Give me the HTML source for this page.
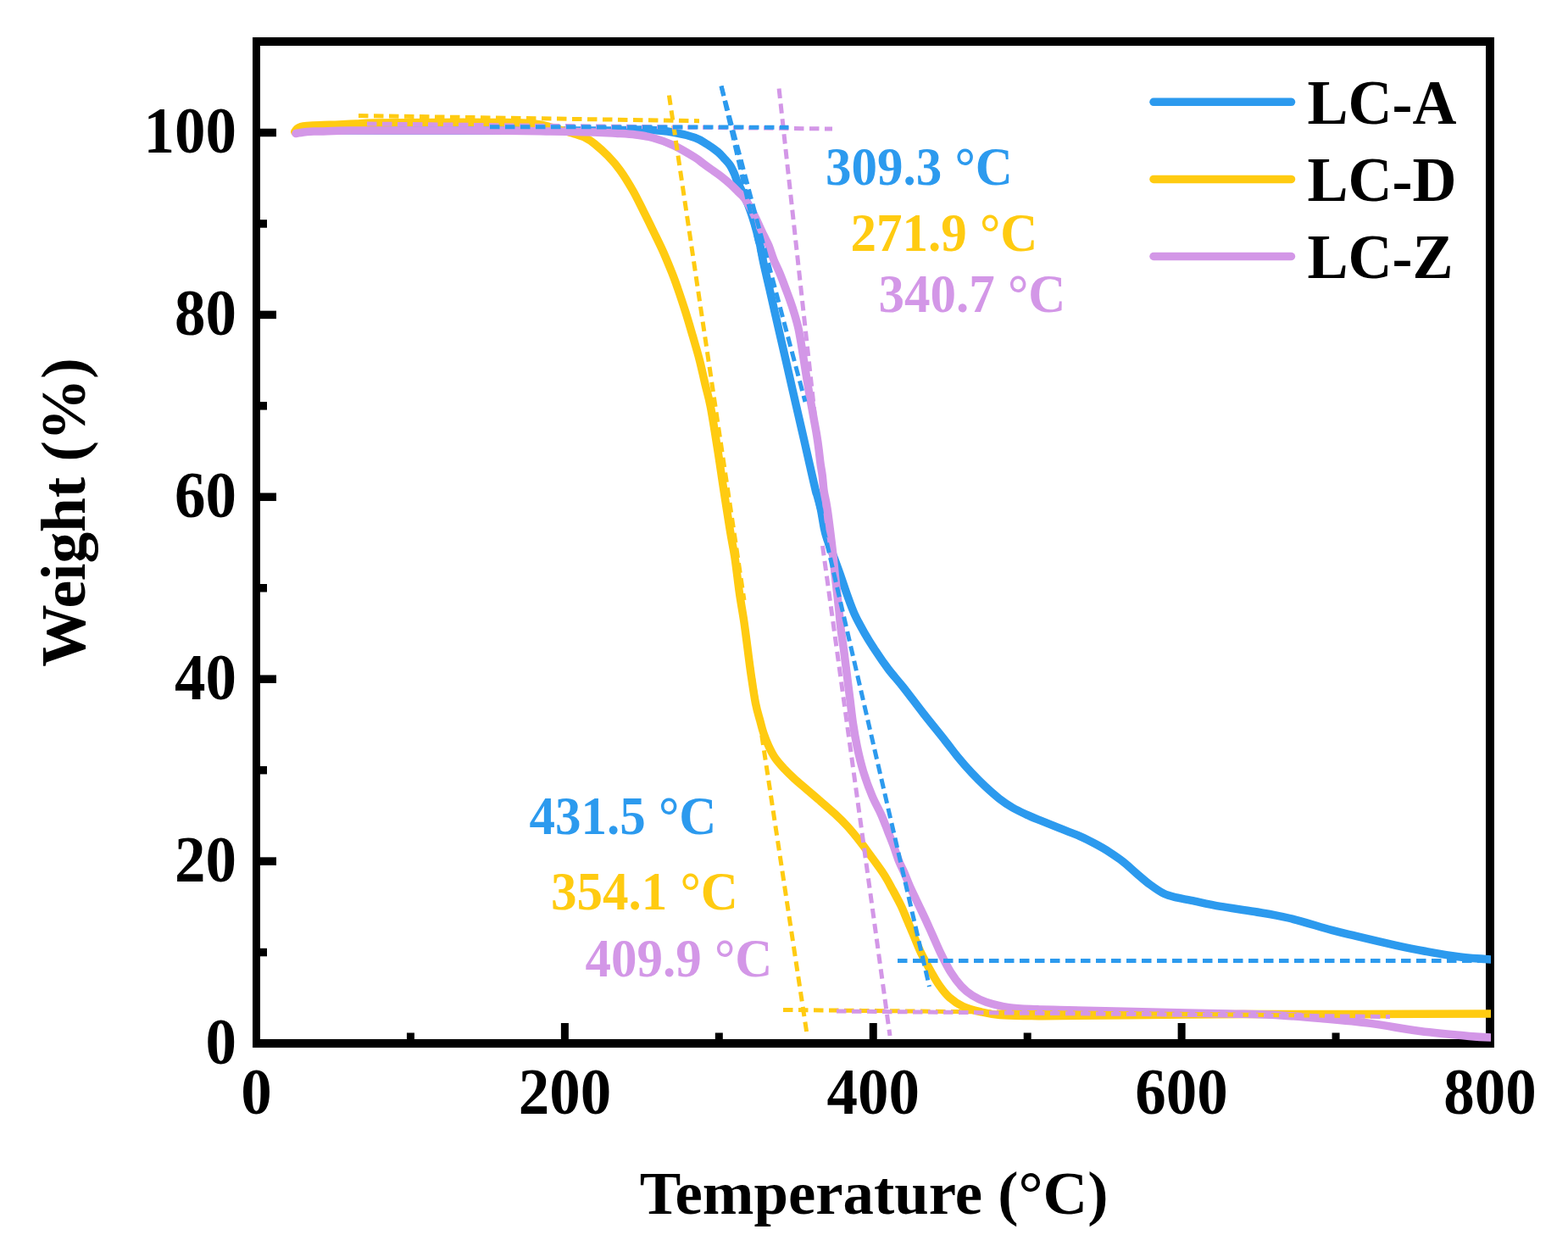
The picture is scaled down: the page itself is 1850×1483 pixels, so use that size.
<!DOCTYPE html>
<html><head><meta charset="utf-8"><title>TGA</title>
<style>html,body{margin:0;padding:0;background:#fff;}svg{display:block;}</style></head>
<body>
<svg width="1850" height="1483" viewBox="0 0 1850 1483">
<rect width="1850" height="1483" fill="#fff"/>
<defs><clipPath id="pc"><rect x="300" y="40" width="1459" height="1200"/></clipPath></defs>
<rect x="298" y="44" width="9" height="1192" fill="#000"/>
<rect x="1753" y="44" width="10" height="1192" fill="#000"/>
<rect x="298" y="44" width="1465" height="10" fill="#000"/>
<rect x="298" y="1226" width="1465" height="10" fill="#000"/>
<rect x="479.94" y="1218.50" width="9" height="7.5" fill="#000"/><rect x="661.88" y="1207.00" width="9" height="19" fill="#000"/><rect x="843.81" y="1218.50" width="9" height="7.5" fill="#000"/><rect x="1025.75" y="1207.00" width="9" height="19" fill="#000"/><rect x="1207.69" y="1218.50" width="9" height="7.5" fill="#000"/><rect x="1389.62" y="1207.00" width="9" height="19" fill="#000"/><rect x="1571.56" y="1218.50" width="9" height="7.5" fill="#000"/><rect x="307" y="1118.80" width="8" height="9.5" fill="#000"/><rect x="307" y="1011.35" width="19" height="9.5" fill="#000"/><rect x="307" y="903.90" width="8" height="9.5" fill="#000"/><rect x="307" y="796.45" width="19" height="9.5" fill="#000"/><rect x="307" y="689.00" width="8" height="9.5" fill="#000"/><rect x="307" y="581.55" width="19" height="9.5" fill="#000"/><rect x="307" y="474.10" width="8" height="9.5" fill="#000"/><rect x="307" y="366.65" width="19" height="9.5" fill="#000"/><rect x="307" y="259.20" width="8" height="9.5" fill="#000"/><rect x="307" y="151.75" width="19" height="9.5" fill="#000"/>
<g clip-path="url(#pc)">
<path d="M362.0,154.5 C368.3,154.4 377.0,153.9 400.0,153.8 C423.0,153.7 466.7,154.0 500.0,154.0 C533.3,154.0 566.7,154.0 600.0,154.0 C633.3,154.0 677.5,154.1 700.0,154.0 C722.5,153.9 724.9,153.7 735.0,153.5 C745.1,153.3 750.5,152.6 760.5,153.0 C770.5,153.4 785.1,154.6 795.0,156.2 C804.9,157.8 813.5,160.2 820.0,162.5 C826.5,164.8 829.5,167.2 834.0,170.0 C838.5,172.8 843.7,176.6 847.0,179.3 C850.3,182.1 851.7,184.0 854.0,186.5 C856.3,189.0 859.0,191.6 861.0,194.5 C863.0,197.4 864.5,200.7 866.0,204.0 C867.5,207.3 868.2,210.3 870.0,214.5 C871.8,218.7 874.7,223.9 877.0,229.0 C879.3,234.1 881.8,239.0 884.0,245.0 C886.2,251.0 888.4,257.8 890.5,265.0 C892.6,272.2 894.8,280.5 896.5,288.0 C898.2,295.5 898.9,301.3 900.8,310.0 C902.7,318.7 905.4,330.0 907.7,340.0 C910.0,350.0 912.2,360.0 914.5,370.0 C916.8,380.0 919.1,390.0 921.4,400.0 C923.7,410.0 926.0,420.0 928.3,430.0 C930.6,440.0 932.8,450.0 935.1,460.0 C937.4,470.0 939.7,480.0 942.0,490.0 C944.3,500.0 946.6,510.0 948.9,520.0 C951.2,530.0 953.4,540.0 955.7,550.0 C958.0,560.0 961.4,575.0 962.6,580.0 C963.8,585.0 961.9,576.7 962.8,580.0 C963.7,583.3 966.6,592.6 968.2,600.0 C969.8,607.4 971.3,618.1 972.6,624.3 C973.9,630.5 974.4,631.6 976.2,637.0 C978.0,642.4 980.9,649.2 983.6,656.6 C986.3,664.0 989.8,673.4 992.5,681.2 C995.2,689.0 997.4,696.0 1000.0,703.2 C1002.6,710.5 1005.0,717.5 1008.3,724.7 C1011.6,731.9 1015.6,739.1 1019.7,746.3 C1023.8,753.5 1028.3,760.7 1033.1,767.9 C1037.8,775.1 1042.8,782.4 1048.2,789.5 C1053.6,796.6 1058.6,801.8 1065.5,810.5 C1072.4,819.2 1081.2,831.2 1089.5,841.8 C1097.8,852.4 1108.7,865.7 1115.4,874.2 C1122.2,882.7 1124.9,886.8 1130.0,893.0 C1135.1,899.2 1140.8,905.8 1146.2,911.6 C1151.6,917.4 1157.0,922.8 1162.4,927.8 C1167.8,932.8 1173.2,937.7 1178.6,941.9 C1184.0,946.1 1189.5,949.8 1194.9,953.0 C1200.3,956.2 1205.7,958.6 1211.1,961.1 C1216.5,963.6 1221.9,965.7 1227.3,967.9 C1232.7,970.1 1238.1,972.2 1243.5,974.4 C1248.9,976.6 1254.3,978.8 1259.7,980.9 C1265.1,983.0 1270.5,984.9 1275.9,987.3 C1281.3,989.7 1286.8,992.6 1292.2,995.5 C1297.6,998.4 1303.0,1001.4 1308.4,1004.9 C1313.8,1008.4 1319.2,1012.0 1324.6,1016.2 C1330.0,1020.4 1335.4,1025.7 1340.8,1030.3 C1346.2,1034.9 1351.6,1039.8 1357.0,1043.8 C1362.4,1047.8 1367.8,1051.7 1373.2,1054.3 C1378.6,1056.9 1384.0,1057.8 1389.4,1059.2 C1394.8,1060.6 1397.3,1060.7 1405.7,1062.4 C1414.1,1064.1 1427.6,1067.2 1440.0,1069.4 C1452.4,1071.6 1466.7,1073.2 1480.0,1075.5 C1493.3,1077.8 1504.8,1079.4 1520.0,1083.0 C1535.2,1086.6 1558.0,1093.8 1571.3,1097.3 C1584.6,1100.8 1587.4,1101.3 1600.0,1104.3 C1612.6,1107.3 1633.7,1112.3 1647.0,1115.3 C1660.3,1118.2 1667.4,1119.7 1680.0,1122.0 C1692.6,1124.3 1708.5,1127.3 1722.7,1129.0 C1736.9,1130.7 1758.0,1131.8 1765.0,1132.3" stroke="#2c9aee" stroke-width="9.5" fill="none" stroke-linecap="round" stroke-linejoin="round"/>
<path d="M347.8,155.5 C348.2,154.9 349.3,152.8 350.5,151.8 C351.7,150.8 353.1,150.2 355.0,149.6 C356.9,149.0 358.3,148.8 362.0,148.5 C365.7,148.2 370.7,147.9 377.0,147.7 C383.3,147.4 392.8,147.3 400.0,147.0 C407.2,146.7 413.3,146.3 420.0,146.0 C426.7,145.7 426.7,145.2 440.0,145.0 C453.3,144.8 473.3,144.6 500.0,144.5 C526.7,144.4 578.3,144.2 600.0,144.5 C621.7,144.8 622.0,145.2 630.0,146.0 C638.0,146.8 642.7,148.2 648.0,149.5 C653.3,150.8 657.2,152.2 662.0,153.5 C666.8,154.8 672.2,156.1 677.0,157.6 C681.8,159.1 686.4,160.4 690.5,162.4 C694.6,164.4 697.2,166.1 701.6,169.7 C706.0,173.3 712.1,178.6 717.1,183.8 C722.1,189.0 726.5,193.8 731.5,200.7 C736.5,207.6 742.2,216.9 746.8,225.0 C751.4,233.1 755.2,241.2 759.3,249.3 C763.4,257.4 767.3,265.4 771.2,273.5 C775.1,281.6 779.2,289.7 782.8,297.8 C786.4,305.9 790.1,315.1 792.9,322.1 C795.7,329.1 796.8,332.3 799.5,340.0 C802.2,347.7 805.9,358.9 808.9,368.3 C811.9,377.8 814.6,387.2 817.4,396.7 C820.1,406.1 823.0,415.6 825.4,425.0 C827.8,434.4 829.8,444.1 832.0,453.3 C834.2,462.5 836.0,467.5 838.4,480.0 C840.8,492.5 843.8,512.3 846.4,528.5 C849.0,544.7 851.2,560.8 853.7,577.0 C856.2,593.2 859.1,612.1 861.3,625.6 C863.5,639.1 865.1,645.6 867.0,658.0 C868.9,670.4 870.7,687.6 872.5,700.0 C874.3,712.4 876.1,721.6 877.7,732.4 C879.3,743.2 880.6,753.9 882.0,764.7 C883.4,775.5 884.7,786.3 886.3,797.1 C887.9,807.9 889.7,820.6 891.4,829.4 C893.1,838.2 895.1,844.1 896.7,850.0 C898.3,855.9 899.1,859.8 900.8,864.8 C902.5,869.8 904.4,874.8 906.7,879.7 C909.0,884.7 911.5,889.9 914.7,894.5 C917.9,899.1 922.1,903.6 925.8,907.6 C929.5,911.6 932.6,914.5 936.9,918.5 C941.2,922.5 946.8,927.0 951.8,931.3 C956.8,935.5 961.0,939.2 966.6,944.0 C972.2,948.8 979.6,955.1 985.2,960.3 C990.8,965.5 995.2,969.8 1000.3,975.4 C1005.3,981.0 1011.1,988.2 1015.5,993.8 C1019.9,999.4 1022.1,1002.6 1026.6,1008.8 C1031.1,1015.0 1038.1,1024.3 1042.5,1031.0 C1046.9,1037.7 1049.6,1043.1 1052.9,1049.2 C1056.2,1055.3 1059.7,1061.7 1062.5,1067.4 C1065.3,1073.1 1067.0,1077.6 1069.5,1083.6 C1072.0,1089.6 1074.9,1096.3 1077.8,1103.2 C1080.7,1110.1 1083.5,1117.7 1087.0,1124.9 C1090.5,1132.1 1095.0,1140.2 1098.6,1146.5 C1102.2,1152.8 1104.8,1157.7 1108.4,1162.7 C1112.0,1167.8 1115.6,1172.7 1120.3,1176.8 C1125.0,1180.9 1130.2,1184.7 1136.5,1187.6 C1142.8,1190.5 1150.9,1192.3 1158.1,1194.0 C1165.3,1195.7 1170.7,1196.8 1179.7,1197.5 C1188.7,1198.2 1200.5,1198.3 1212.2,1198.5 C1223.9,1198.7 1218.7,1198.8 1250.0,1198.5 C1281.3,1198.2 1358.3,1197.3 1400.0,1197.0 C1441.7,1196.7 1466.7,1196.6 1500.0,1196.5 C1533.3,1196.4 1555.8,1196.6 1600.0,1196.5 C1644.2,1196.4 1737.5,1196.1 1765.0,1196.0" stroke="#ffcb11" stroke-width="9.5" fill="none" stroke-linecap="round" stroke-linejoin="round"/>
<path d="M349.0,157.5 C351.2,157.2 357.2,155.8 362.0,155.4 C366.8,155.0 369.5,155.2 378.0,155.0 C386.5,154.8 392.7,154.2 413.0,154.0 C433.3,153.8 468.8,154.0 500.0,154.0 C531.2,154.0 575.0,154.0 600.0,154.2 C625.0,154.4 633.3,154.7 650.0,155.0 C666.7,155.3 687.2,155.6 700.0,156.0 C712.8,156.4 718.2,156.8 726.5,157.3 C734.8,157.8 742.8,158.1 750.0,159.0 C757.2,159.9 762.5,160.4 770.0,162.5 C777.5,164.6 786.7,167.7 795.0,171.6 C803.3,175.5 814.2,182.2 820.0,185.8 C825.8,189.4 826.6,190.8 830.0,193.2 C833.4,195.6 836.9,198.1 840.2,200.5 C843.5,202.9 846.4,204.7 850.0,207.5 C853.6,210.3 858.6,214.4 862.0,217.5 C865.4,220.6 867.8,223.2 870.5,226.0 C873.2,228.8 875.4,229.5 878.5,234.0 C881.6,238.5 885.7,245.6 889.4,252.8 C893.1,260.0 897.8,270.9 900.8,277.1 C903.8,283.3 905.1,285.1 907.1,290.0 C909.1,294.9 910.6,300.8 912.8,306.2 C914.9,311.6 917.8,317.0 920.0,322.4 C922.2,327.8 924.2,333.1 926.2,338.5 C928.2,343.9 930.3,349.3 932.2,354.7 C934.1,360.1 935.9,365.5 937.5,370.9 C939.1,376.3 940.6,381.4 941.9,387.1 C943.2,392.8 944.1,398.7 945.2,405.0 C946.3,411.3 947.3,418.3 948.4,425.0 C949.5,431.7 950.5,438.3 951.6,445.0 C952.7,451.7 953.8,458.8 954.9,465.0 C956.0,471.2 957.0,476.6 958.0,482.0 C959.0,487.4 959.8,492.2 960.8,497.5 C961.8,502.8 962.8,508.2 963.7,513.7 C964.6,519.2 965.4,525.0 966.1,530.6 C966.8,536.2 967.4,542.4 968.1,547.4 C968.8,552.4 969.5,555.5 970.2,560.9 C970.9,566.3 971.2,573.5 972.2,580.0 C973.2,586.5 974.3,588.6 976.0,600.0 C977.7,611.4 980.6,635.0 982.2,648.5 C983.8,662.0 984.2,669.0 985.5,680.9 C986.8,692.8 988.9,710.1 989.9,720.0 C990.9,729.9 990.8,732.0 991.8,740.0 C992.8,748.0 994.5,758.8 995.8,768.3 C997.0,777.8 998.1,787.2 999.3,796.7 C1000.5,806.2 1001.7,815.6 1002.9,825.0 C1004.1,834.4 1005.0,843.9 1006.4,853.3 C1007.8,862.7 1009.4,872.1 1011.4,881.6 C1013.4,891.1 1015.6,900.4 1018.5,910.0 C1021.4,919.6 1025.5,930.6 1029.0,939.0 C1032.5,947.4 1036.2,953.3 1039.3,960.2 C1042.4,967.1 1044.9,974.0 1047.4,980.4 C1049.9,986.8 1052.3,992.7 1054.5,998.6 C1056.7,1004.5 1058.5,1010.7 1060.5,1015.8 C1062.5,1020.9 1064.4,1023.9 1066.6,1029.0 C1068.8,1034.1 1071.3,1040.8 1073.7,1046.2 C1076.1,1051.6 1078.0,1055.4 1080.8,1061.3 C1083.6,1067.2 1087.2,1074.6 1090.5,1081.6 C1093.8,1088.6 1097.0,1096.0 1100.3,1103.2 C1103.5,1110.4 1106.5,1117.7 1110.0,1124.9 C1113.5,1132.1 1117.4,1140.0 1121.4,1146.5 C1125.5,1153.0 1130.0,1159.1 1134.3,1163.8 C1138.6,1168.5 1142.4,1171.5 1147.3,1174.6 C1152.2,1177.7 1156.3,1179.9 1163.5,1182.2 C1170.7,1184.5 1180.6,1187.2 1190.5,1188.6 C1200.4,1190.0 1213.1,1190.3 1223.0,1190.8 C1232.9,1191.3 1220.5,1190.7 1250.0,1191.4 C1279.5,1192.1 1366.7,1194.2 1400.0,1195.0 C1433.3,1195.8 1433.3,1195.6 1450.0,1196.0 C1466.7,1196.4 1481.9,1196.3 1500.0,1197.2 C1518.1,1198.1 1538.9,1199.9 1558.4,1201.6 C1577.9,1203.3 1597.3,1204.9 1616.8,1207.4 C1636.3,1209.9 1655.7,1214.0 1675.2,1216.5 C1694.7,1219.0 1718.6,1221.1 1733.6,1222.4 C1748.6,1223.7 1759.8,1224.0 1765.0,1224.3" stroke="#d397e7" stroke-width="9.5" fill="none" stroke-linecap="round" stroke-linejoin="round"/>
<line x1="423" y1="136.5" x2="825" y2="142.7" stroke="#ffcb11" stroke-width="5" stroke-dasharray="11.5 6.5" stroke-dashoffset="0" fill="none"/><line x1="789.4" y1="112.5" x2="878" y2="708" stroke="#ffcb11" stroke-width="5" stroke-dasharray="11.5 6.5" stroke-dashoffset="0" fill="none"/><line x1="951.6" y1="1217" x2="856" y2="585" stroke="#ffcb11" stroke-width="5" stroke-dasharray="11.5 6.5" stroke-dashoffset="0" fill="none"/><line x1="924" y1="1191.4" x2="1640" y2="1199" stroke="#ffcb11" stroke-width="5" stroke-dasharray="11.5 6.5" stroke-dashoffset="0" fill="none"/><line x1="433" y1="146" x2="982" y2="152" stroke="#d397e7" stroke-width="5" stroke-dasharray="11.5 6.5" stroke-dashoffset="0" fill="none"/><line x1="919.1" y1="104.5" x2="980" y2="660" stroke="#d397e7" stroke-width="5" stroke-dasharray="11.5 6.5" stroke-dashoffset="0" fill="none"/><line x1="970.5" y1="644" x2="1050" y2="1222" stroke="#d397e7" stroke-width="5" stroke-dasharray="11.5 6.5" stroke-dashoffset="0" fill="none"/><line x1="987" y1="1193" x2="1640" y2="1199.5" stroke="#d397e7" stroke-width="5" stroke-dasharray="11.5 6.5" stroke-dashoffset="0" fill="none"/><line x1="578" y1="149.7" x2="930.5" y2="150.2" stroke="#2c9aee" stroke-width="5" stroke-dasharray="11.5 6.5" stroke-dashoffset="0" fill="none"/><line x1="851" y1="101.5" x2="950" y2="474" stroke="#2c9aee" stroke-width="5" stroke-dasharray="12 6" stroke-dashoffset="0" fill="none"/><line x1="851" y1="101.5" x2="1096.5" y2="1164" stroke="#2c9aee" stroke-width="5" stroke-dasharray="11.8 6.05" stroke-dashoffset="0" fill="none"/><line x1="1059" y1="1133.5" x2="1758" y2="1133.5" stroke="#2c9aee" stroke-width="5" stroke-dasharray="11.5 6.5" stroke-dashoffset="0" fill="none"/>
</g>
<text transform="translate(279,1254.5) scale(1,1.065)" font-family="&apos;Liberation Serif&apos;, serif" font-weight="bold" font-size="73" text-anchor="end" fill="#000" >0</text><text transform="translate(279,1039.6) scale(1,1.065)" font-family="&apos;Liberation Serif&apos;, serif" font-weight="bold" font-size="73" text-anchor="end" fill="#000" >20</text><text transform="translate(279,824.7) scale(1,1.065)" font-family="&apos;Liberation Serif&apos;, serif" font-weight="bold" font-size="73" text-anchor="end" fill="#000" >40</text><text transform="translate(279,609.8) scale(1,1.065)" font-family="&apos;Liberation Serif&apos;, serif" font-weight="bold" font-size="73" text-anchor="end" fill="#000" >60</text><text transform="translate(279,394.9) scale(1,1.065)" font-family="&apos;Liberation Serif&apos;, serif" font-weight="bold" font-size="73" text-anchor="end" fill="#000" >80</text><text transform="translate(279,180.0) scale(1,1.065)" font-family="&apos;Liberation Serif&apos;, serif" font-weight="bold" font-size="73" text-anchor="end" fill="#000" >100</text><text transform="translate(302.5,1313.5) scale(1,1.065)" font-family="&apos;Liberation Serif&apos;, serif" font-weight="bold" font-size="73" text-anchor="middle" fill="#000" >0</text><text transform="translate(666.4,1313.5) scale(1,1.065)" font-family="&apos;Liberation Serif&apos;, serif" font-weight="bold" font-size="73" text-anchor="middle" fill="#000" >200</text><text transform="translate(1030.2,1313.5) scale(1,1.065)" font-family="&apos;Liberation Serif&apos;, serif" font-weight="bold" font-size="73" text-anchor="middle" fill="#000" >400</text><text transform="translate(1394.1,1313.5) scale(1,1.065)" font-family="&apos;Liberation Serif&apos;, serif" font-weight="bold" font-size="73" text-anchor="middle" fill="#000" >600</text><text transform="translate(1758.0,1313.5) scale(1,1.065)" font-family="&apos;Liberation Serif&apos;, serif" font-weight="bold" font-size="73" text-anchor="middle" fill="#000" >800</text><text transform="translate(1031,1432) scale(1,1.0)" font-family="&apos;Liberation Serif&apos;, serif" font-weight="bold" font-size="72.8" text-anchor="middle" fill="#000" >Temperature (°C)</text><text transform="translate(99.5,604.5) rotate(-90)" font-family="&apos;Liberation Serif&apos;, serif" font-weight="bold" font-size="73.3" text-anchor="middle">Weight (%)</text>
<line x1="1361" y1="120.3" x2="1523.5" y2="120.3" stroke="#2c9aee" stroke-width="9.5" stroke-linecap="round"/><text transform="translate(1542.5,145.9) scale(1,1.04)" font-family="&apos;Liberation Serif&apos;, serif" font-weight="bold" font-size="72" text-anchor="start" fill="#000" >LC-A</text><line x1="1361" y1="211.4" x2="1523.5" y2="211.4" stroke="#ffcb11" stroke-width="9.5" stroke-linecap="round"/><text transform="translate(1542.5,236.8) scale(1,1.04)" font-family="&apos;Liberation Serif&apos;, serif" font-weight="bold" font-size="72" text-anchor="start" fill="#000" >LC-D</text><line x1="1361" y1="302.5" x2="1523.5" y2="302.5" stroke="#d397e7" stroke-width="9.5" stroke-linecap="round"/><text transform="translate(1542.5,327.6) scale(1,1.04)" font-family="&apos;Liberation Serif&apos;, serif" font-weight="bold" font-size="72" text-anchor="start" fill="#000" >LC-Z</text>
<text transform="translate(974,217.8) scale(1,1.05)" font-family="&apos;Liberation Serif&apos;, serif" font-weight="bold" font-size="61" text-anchor="start" fill="#2c9aee" >309.3 °C</text><text transform="translate(1003.5,295.7) scale(1,1.05)" font-family="&apos;Liberation Serif&apos;, serif" font-weight="bold" font-size="61" text-anchor="start" fill="#ffcb11" >271.9 °C</text><text transform="translate(1036.5,367.8) scale(1,1.05)" font-family="&apos;Liberation Serif&apos;, serif" font-weight="bold" font-size="61" text-anchor="start" fill="#d397e7" >340.7 °C</text><text transform="translate(624.5,984) scale(1,1.05)" font-family="&apos;Liberation Serif&apos;, serif" font-weight="bold" font-size="61" text-anchor="start" fill="#2c9aee" >431.5 °C</text><text transform="translate(650,1072.8) scale(1,1.05)" font-family="&apos;Liberation Serif&apos;, serif" font-weight="bold" font-size="61" text-anchor="start" fill="#ffcb11" >354.1 °C</text><text transform="translate(690.5,1152) scale(1,1.05)" font-family="&apos;Liberation Serif&apos;, serif" font-weight="bold" font-size="61" text-anchor="start" fill="#d397e7" >409.9 °C</text>
</svg>
</body></html>
